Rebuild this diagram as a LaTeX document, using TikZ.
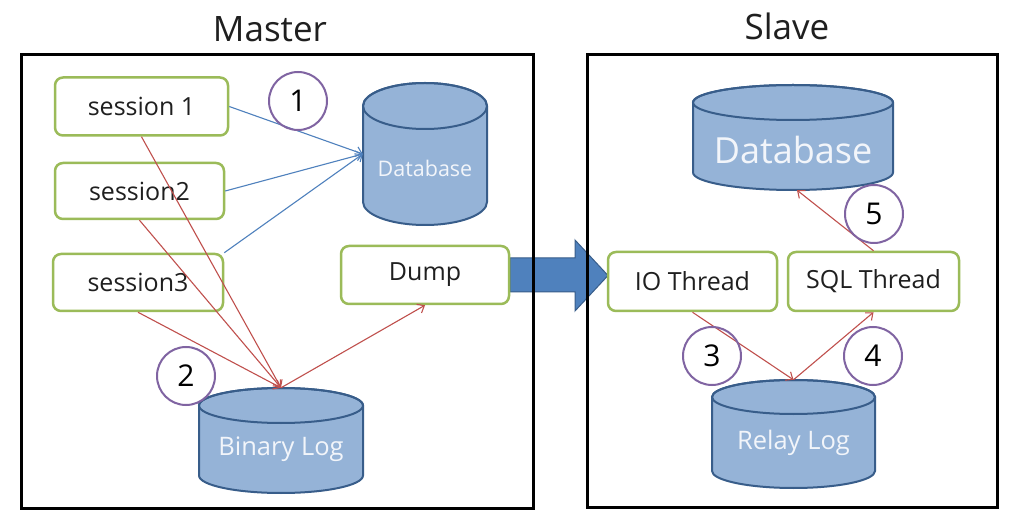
\documentclass[tikz,border=0pt]{standalone}
\usepackage{fontspec}
\setmainfont{Open Sans}
\usetikzlibrary{arrows.meta}
\definecolor{boxgreen}{HTML}{9BBB59}
\definecolor{cylfillc}{HTML}{95B3D7}
\definecolor{cyllinec}{HTML}{385D8A}
\definecolor{arrblue}{HTML}{4F81BD}
\definecolor{arrred}{HTML}{C0504D}
\definecolor{circpurple}{HTML}{8064A2}
\definecolor{cyltext}{HTML}{F2F5FA}
\newcommand{\mycyl}[5]{%
  \path[fill=cylfillc,draw=cyllinec,line width=2pt] (#1-#2,-#3-#5) -- (#1-#2,-#4+#5)
    arc[start angle=180,end angle=360,x radius=#2pt,y radius=#5pt]
    -- (#1+#2,-#3-#5)
    arc[start angle=0,end angle=180,x radius=#2pt,y radius=#5pt] -- cycle;
  \draw[cyllinec,line width=2pt] (#1,-#3-#5) ellipse [x radius=#2pt,y radius=#5pt];
}
\tikzset{
  procbox/.style={draw=boxgreen,line width=2.5pt,rounded corners=8pt,fill=white,
    inner sep=0pt,font=\fontsize{25}{29}\selectfont,text=black!88},
  numcirc/.style={circle,draw=circpurple,line width=2pt,inner sep=0pt,
    minimum size=58pt,font=\fontsize{30}{34}\selectfont},
  frame/.style={draw=black,line width=3pt},
  cylarea/.style={inner sep=0pt},
  cyllabel/.style={text=cyltext,inner sep=0pt},
  bluearr/.style={draw=arrblue,line width=1.1pt,-{Straight Barb[length=6pt,width=10pt]}},
  redarr/.style={draw=arrred,line width=1.1pt,-{Straight Barb[length=6pt,width=10pt]}},
  title/.style={font=\fontsize{35}{41}\selectfont,text=black!88}
}
\begin{document}
\begin{tikzpicture}[x=1pt,y=1pt]
\path[use as bounding box,fill=white] (0,0) rectangle (1020,-526);

% titles
\node[title] (mtitle) at (270,-29) {Master};
\node[title] (stitle) at (787,-26) {Slave};

% big transfer arrow
\draw[fill=arrblue,draw=cyllinec,line width=1pt]
  (510,-258) -- (575,-258) -- (575,-240) -- (608,-275.5) -- (575,-311) -- (575,-292) -- (510,-292) -- cycle;

% frames
\node[frame,minimum width=512pt,minimum height=453pt,inner sep=0pt] (master) at (277,-281.5) {};
\node[frame,minimum width=410pt,minimum height=452pt,inner sep=0pt] (slave) at (792,-281) {};

% cylinders
\mycyl{425}{62}{83}{225}{23}
\node[cylarea,minimum width=124pt,minimum height=142pt] (mdb) at (425,-154) {};
\node[cyllabel,font=\fontsize{21.5}{25}\selectfont] (mdbl) at (425,-168) {Database};

\mycyl{281}{82}{388}{493}{17.5}
\node[cylarea,minimum width=164pt,minimum height=105pt] (binlog) at (281,-440.5) {};
\node[cyllabel,font=\fontsize{25.5}{29}\selectfont] (binlogl) at (281,-449) {Binary Log};

\mycyl{793}{100}{85}{190}{17.5}
\node[cylarea,minimum width=200pt,minimum height=105pt] (sdb) at (793,-137.5) {};
\node[cyllabel,font=\fontsize{36}{42}\selectfont] (sdbl) at (793,-150) {Database};

\mycyl{793.5}{81.5}{380}{488}{17}
\node[cylarea,minimum width=163pt,minimum height=108pt] (relay) at (793.5,-434) {};
\node[cyllabel,font=\fontsize{25.5}{29}\selectfont] (relayl) at (793.5,-443) {Relay Log};

% process boxes
\node[procbox,minimum width=173pt,minimum height=58pt] (s1) at (141.5,-106.5) {session 1};
\node[procbox,minimum width=169pt,minimum height=56pt] (s2) at (139.5,-191) {session2};
\node[procbox,minimum width=170pt,minimum height=57pt] (s3) at (138,-282.5) {session3};
\node[procbox,minimum width=168pt,minimum height=58pt] (dump) at (425,-275) {Dump};
\node[procbox,minimum width=169pt,minimum height=59pt] (io) at (692.5,-281.5) {IO Thread};
\node[procbox,minimum width=171pt,minimum height=59pt] (sql) at (873.5,-281.5) {SQL Thread};

% connectors
\draw[bluearr] (s1.east) -- (mdb.west);
\draw[bluearr] (s2.east) -- (mdb.west);
\draw[bluearr] (s3.north east) -- (mdb.west);

\draw[redarr] (s1.south) -- (binlog.north);
\draw[redarr] (s2.south) -- (binlog.north);
\draw[redarr] (s3.south) -- (binlog.north);
\draw[redarr] (binlog.north) -- (dump.south);

\draw[redarr] (io.south) -- (relay.north);
\draw[redarr] (relay.north) -- (sql.south);
\coordinate (sdbin) at ([xshift=4pt]sdb.south);
\draw[redarr] (sql.north) -- (sdbin);

% step circles
\node[numcirc] (c1) at (298,-101) {1};
\node[numcirc] (c2) at (186,-376) {2};
\node[numcirc] (c3) at (712,-356) {3};
\node[numcirc] (c4) at (873,-356) {4};
\node[numcirc] (c5) at (874,-214) {5};
\end{tikzpicture}
\end{document}
